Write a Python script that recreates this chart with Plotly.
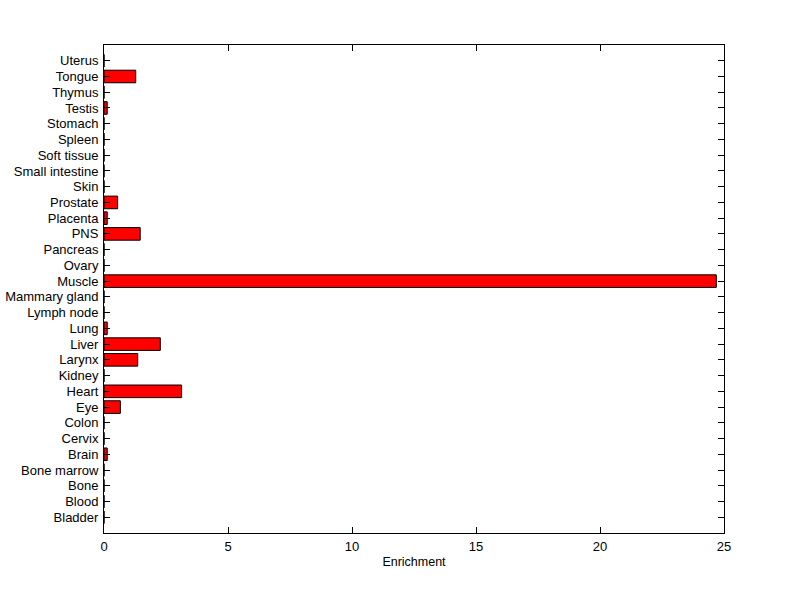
import plotly.graph_objects as go

categories = ["Bladder", "Blood", "Bone", "Bone marrow", "Brain", "Cervix", "Colon", "Eye",
              "Heart", "Kidney", "Larynx", "Liver", "Lung", "Lymph node", "Mammary gland",
              "Muscle", "Ovary", "Pancreas", "PNS", "Placenta", "Prostate", "Skin",
              "Small intestine", "Soft tissue", "Spleen", "Stomach", "Testis", "Thymus",
              "Tongue", "Uterus"]
values = [0, 0, 0, 0, 0.13, 0, 0, 0.66,
          3.13, 0, 1.36, 2.27, 0.13, 0, 0,
          24.69, 0, 0, 1.46, 0.13, 0.55, 0,
          0, 0, 0, 0, 0.13, 0,
          1.28, 0]
x_ticks = [0, 5, 10, 15, 20, 25]

positions = list(range(len(categories)))

fig = go.Figure(go.Bar(
    x=values, y=positions, orientation="h", width=0.8,
    marker=dict(color="#FF0000", line=dict(color="black", width=1)),
))

font = dict(family="Liberation Sans, Arial, sans-serif", size=13, color="black")
fig.update_layout(
    width=800, height=599,
    margin=dict(l=104, r=76, t=45, b=66, autoexpand=False),
    paper_bgcolor="white", plot_bgcolor="white",
    font=font, showlegend=False,
    xaxis=dict(range=[0, 25], tickvals=x_ticks, ticks="inside", ticklen=6,
               showline=True, linecolor="black", linewidth=1, mirror="ticks",
               showgrid=False, zeroline=False, automargin=False,
               title=dict(text="Enrichment", standoff=4, font=dict(size=12.5)),
               tickcolor="black", ticklabelstandoff=1),
    yaxis=dict(range=[-1, 30], tickvals=positions, ticktext=categories, ticks="inside",
               ticklen=6, showline=True, linecolor="black", linewidth=1, mirror="ticks",
               showgrid=False, zeroline=False, tickcolor="black", automargin=False,
               ticklabelstandoff=2),
)

fig.write_html("out.html", config={"displayModeBar": False},
               post_script="document.body.style.margin='0';document.body.style.overflow='hidden';")
